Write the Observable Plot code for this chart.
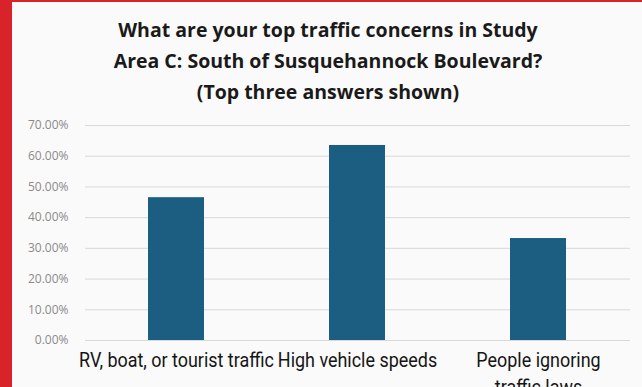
<!DOCTYPE html>
<html>
<head>
<meta charset="utf-8">
<script src="https://cdn.jsdelivr.net/npm/d3@7"></script>
<script src="https://cdn.jsdelivr.net/npm/@observablehq/plot@0.6"></script>
<style>
  html, body { margin: 0; padding: 0; }
  body { width: 642px; height: 387px; overflow: hidden; background: #fafafa; position: relative; }
  #frame { position: absolute; left: 0; top: 0; width: 642px; height: 387px; box-sizing: border-box; border-left: 12px solid #d9232b; border-top: 2px solid #d9232b; }
  #title { position: absolute; left: 0; top: 14px; width: 656px; text-align: center; font-family: "Open Sans", Lato, sans-serif; font-weight: 700; font-size: 19.5px; line-height: 31px; color: #1a1a1a; }
  #chart { position: absolute; left: 0; top: 110px; }
</style>
</head>
<body>
<div id="frame"></div>
<div id="title">What are your top traffic concerns in Study<br>Area C: South of Susquehannock Boulevard?<br>(Top three answers shown)</div>
<div id="chart"></div>
<script>
const categories = ["RV, boat, or tourist traffic", "High vehicle speeds", "People ignoring traffic laws"];
const categoryLabels = ["RV, boat, or tourist traffic", "High vehicle speeds", "People ignoring\ntraffic laws"];
const values = [46.5, 63.5, 33.2];
const yTicks = [0, 10, 20, 30, 40, 50, 60, 70];

const data = categories.map((c, i) => ({category: c, value: values[i]}));

const chart = Plot.plot({
  width: 642,
  height: 277,
  marginLeft: 85,
  marginRight: 12,
  marginTop: 15,
  marginBottom: 47,
  style: {background: "transparent"},
  x: {domain: categories, paddingInner: 0.69, paddingOuter: 0.345, label: null},
  y: {domain: [0, 70], label: null},
  marks: [
    Plot.gridY(yTicks, {stroke: "#d9d9d9", strokeOpacity: 1, strokeWidth: 1}),
    Plot.barY(data, {x: "category", y: "value", fill: "#1b5e82"}),
    Plot.axisY(yTicks, {
      label: null,
      tickSize: 0, tickPadding: 17,
      tickFormat: d => d.toFixed(2) + "%",
      fontSize: 12, fontFamily: "'Open Sans', sans-serif", fill: "#8a8a8a"
    }),
    Plot.axisX({
      label: null,
      tickSize: 0, tickPadding: 7,
      tickFormat: d => categoryLabels[categories.indexOf(d)],
      fontSize: 21, fontFamily: "Roboto, sans-serif", fill: "#151515",
      lineHeight: 1.3
    })
  ]
});
document.getElementById("chart").appendChild(chart);

// condense the category labels horizontally
chart.querySelectorAll('g[aria-label="x-axis tick label"] text').forEach(t => {
  const tr = t.getAttribute("transform") || "";
  t.setAttribute("transform", tr + " scale(0.855,1)");
});
</script>
</body>
</html>
